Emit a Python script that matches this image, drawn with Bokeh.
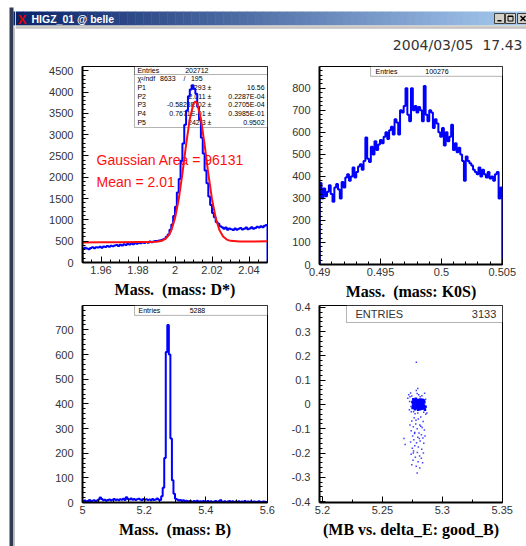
from bokeh.plotting import figure
from bokeh.models import (Range1d, SingleIntervalTicker, CustomJSTickFormatter,
                          BoxAnnotation, Label)
from bokeh.layouts import row, column
from bokeh.embed import file_html
from bokeh.resources import INLINE

# ---------------- data ----------------
# D* mass histogram (bins of 0.001 from 1.95)
dstar_lo, dstar_bin = 1.95, 0.001
dstar_counts = [
    320, 345, 330, 310, 340, 355, 335, 360, 350, 370,
    345, 375, 365, 390, 370, 395, 380, 400, 410, 385,
    415, 400, 430, 410, 440, 425, 445, 430, 455, 440,
    460, 450, 470, 455, 480, 465, 490, 475, 495, 505,
    505, 515, 520, 540, 555, 605, 660, 770, 890, 1090,
    1310, 1640, 1960, 2390, 2790, 3230, 3570, 3900, 4060, 4160,
    4080, 3960, 3650, 3350, 2930, 2560, 2160, 1860, 1550, 1350,
    1160, 1060, 950, 910, 850, 830, 790, 820, 770, 800,
    780, 760, 800, 770, 790, 810, 775, 790, 820, 780,
    800, 830, 790, 810, 840, 820, 850, 830, 860, 880,
]
# Gaussian + linear fit curve
fit_x = [1.95, 1.96, 1.97, 1.98, 1.985, 1.99, 1.993, 1.995, 1.997, 1.998,
         2.0, 2.002, 2.004, 2.006, 2.008, 2.01, 2.011, 2.012, 2.014, 2.016,
         2.018, 2.02, 2.022, 2.024, 2.026, 2.028, 2.03, 2.035, 2.04, 2.05]
fit_y = [472, 475, 477, 480, 481, 487, 511, 559, 667, 756,
         1038, 1482, 2084, 2764, 3370, 3732, 3780, 3732, 3372, 2766,
         2088, 1486, 1043, 762, 610, 538, 508, 494, 494, 497]
fit_params = [("P1", "3293", "16.56"), ("P2", "2.011", "0.2287E-04"),
              ("P3", "-0.5823E-02", "0.2705E-04"), ("P4", "0.7671E-01", "0.3985E-01"),
              ("P5", "242.3", "0.9502")]

# K0S mass histogram (bins of 0.00015 from 0.49)
k0s_lo, k0s_bin = 0.49, 0.00015
k0s_counts = [
    370, 300, 345, 310, 330, 360, 320, 285, 350, 365,
    340, 300, 375, 350, 395, 410, 380, 400, 440, 395,
    420, 445, 455, 430, 470, 577, 480, 465, 535, 500,
    560, 520, 545, 565, 550, 580, 600, 570, 610, 625,
    590, 660, 645, 590, 700, 690, 720, 800, 680, 650,
    800, 700, 720, 690, 715, 700, 650, 810, 680, 650,
    700, 690, 620, 660, 640, 600, 580, 620, 540, 600,
    560, 580, 635, 520, 550, 510, 530, 500, 470, 380,
    490, 470, 460, 450, 430, 420, 410, 440, 400, 430,
    410, 395, 420, 390, 400, 380, 410, 420, 300, 350,
]

# B mass histogram (bins of 0.005 from 5.0)
b_lo, b_bin = 5.0, 0.005
b_counts = [
    5, 8, 3, 6, 10, 4, 7, 9, 5, 8,
    12, 20, 14, 9, 11, 7, 10, 12, 8, 11,
    14, 10, 12, 9, 13, 11, 15, 10, 21, 14,
    12, 16, 11, 14, 10, 13, 15, 12, 9, 14,
    11, 13, 10, 12, 9, 14, 10, 12, 16, 11,
    10, 25, 60, 180, 610, 720, 600, 260, 90, 35,
    15, 12, 8, 10, 6, 9, 5, 7, 4, 6,
    5, 3, 6, 4, 7, 3, 5, 4, 6, 3,
    4, 6, 3, 5, 2, 4, 6, 3, 5, 9,
    4, 3, 5, 2, 4, 6, 3, 5, 2, 4,
    3, 5, 2, 4, 3, 6, 2, 4, 3, 5,
    2, 4, 3, 2, 5, 3, 2, 4, 3, 2,
]

# MB vs delta_E scatter (good_B): dense core, then sparse halo and tail
core_x = [
    5.2750, 5.2755, 5.2760, 5.2762, 5.2765, 5.2768, 5.2770, 5.2772, 5.2775, 5.2777,
    5.2780, 5.2782, 5.2785, 5.2787, 5.2790, 5.2792, 5.2795, 5.2797, 5.2800, 5.2802,
    5.2805, 5.2808, 5.2810, 5.2812, 5.2815, 5.2818, 5.2820, 5.2823, 5.2825, 5.2828,
    5.2830, 5.2833, 5.2836, 5.2838, 5.2840, 5.2843, 5.2846, 5.2849, 5.2752, 5.2758,
    5.2766, 5.2774, 5.2779, 5.2784, 5.2789, 5.2794, 5.2799, 5.2804, 5.2809, 5.2814,
    5.2819, 5.2824, 5.2829, 5.2834, 5.2839, 5.2844, 5.2848, 5.2756, 5.2771, 5.2786,
    5.2801, 5.2816, 5.2831, 5.2846, 5.2852, 5.2855, 5.2858,
]
core_y = [
    0.010, -0.005, 0.015, 0.000, -0.012, 0.008, -0.020, 0.020, 0.004, -0.008,
    0.013, -0.016, 0.002, -0.004, 0.018, -0.011, 0.007, -0.022, 0.000, 0.011,
    -0.006, 0.016, -0.015, 0.005, -0.002, 0.021, -0.010, 0.009, -0.018, 0.003,
    0.014, -0.007, 0.006, -0.013, 0.001, 0.017, -0.004, 0.008, -0.015, 0.022,
    0.004, -0.016, 0.024, -0.012, 0.006, 0.010, -0.014, 0.019, 0.002, -0.020,
    -0.003, 0.012, -0.009, 0.020, -0.017, -0.008, 0.013, 0.005, -0.003, 0.017,
    -0.010, 0.009, -0.001, -0.012, -0.015, -0.022, -0.008,
]
sparse_x = [
    5.2720, 5.2730, 5.2735, 5.2712, 5.2741, 5.2727, 5.2745, 5.2790, 5.2795, 5.2783,
    5.2803, 5.2815, 5.2830, 5.2852, 5.2860, 5.2866, 5.2871, 5.2862, 5.2845, 5.2760,
    5.2772, 5.2738, 5.2725, 5.2795, 5.2783,
    5.2765, 5.2800, 5.2820, 5.2745, 5.2840, 5.2778, 5.2812, 5.2758, 5.2832, 5.2790,
    5.2740, 5.2850, 5.2770, 5.2805, 5.2825, 5.2752, 5.2795, 5.2838, 5.2680, 5.2762,
    5.2815, 5.2735, 5.2785, 5.2845, 5.2690, 5.2770, 5.2800, 5.2750, 5.2828, 5.2760,
    5.2792, 5.2842, 5.2740, 5.2810, 5.2775, 5.2825, 5.2755, 5.2798, 5.2835, 5.2745,
    5.2782, 5.2812, 5.2790, 5.2768, 5.2820, 5.2808, 5.2758, 5.2780, 5.2730, 5.2855,
]
sparse_y = [
    0.040, 0.032, 0.047, 0.026, -0.030, 0.012, 0.035, 0.045, 0.066, 0.058,
    0.040, 0.032, 0.036, 0.046, 0.022, -0.010, -0.035, -0.040, -0.032, -0.030,
    -0.038, -0.008, -0.022, -0.035, 0.174,
    -0.055, -0.060, -0.052, -0.068, -0.070, -0.080, -0.085, -0.092, -0.095, -0.100,
    -0.108, -0.105, -0.115, -0.118, -0.125, -0.130, -0.135, -0.138, -0.140, -0.145,
    -0.150, -0.155, -0.158, -0.160, -0.165, -0.170, -0.175, -0.180, -0.185, -0.192,
    -0.198, -0.200, -0.205, -0.212, -0.218, -0.222, -0.230, -0.236, -0.240, -0.248,
    -0.255, -0.262, -0.282, -0.120, -0.090, -0.140, -0.200, -0.065, -0.085, -0.130,
]

entries_dstar, chi2_text, ndf_text = "202712", "8633", "195"
entries_k0s, entries_b, entries_scatter = "100276", "5288", "3133"
gauss_area_text, mean_text = "Gaussian Area = 96131", "Mean = 2.01"
date_text = "2004/03/05\u00a0\u00a017.43"
window_title = "HIGZ_01 @ belle"
labels = ["Mass.\u00a0 (mass: D*)", "Mass.\u00a0 (mass: K0S)",
          "Mass.\u00a0 (mass: B)", "(MB vs. delta_E: good_B)"]

BLUE = "#0000ff"
RED = "#ff1010"
TICK_FONT = "Liberation Sans"


def step_path(lo, w, counts):
    xs, ys = [lo], [0]
    for i, c in enumerate(counts):
        xs += [lo + i * w, lo + (i + 1) * w]
        ys += [c, c]
    xs.append(lo + len(counts) * w)
    ys.append(0)
    return xs, ys


fmt_code = "return String(Math.round(tick*100000)/100000);"


def panel(xr, yr, fw, fh, bl, br, bt, bb, xt, yt, label):
    p = figure(frame_width=fw, frame_height=fh,
               x_range=Range1d(*xr), y_range=Range1d(*yr),
               min_border_left=bl, min_border_right=br,
               min_border_top=bt, min_border_bottom=bb,
               toolbar_location=None, output_backend="svg",
               background_fill_color="white", border_fill_color="white",
               outline_line_color="black", outline_line_width=1)
    p.grid.visible = False
    p.xaxis.ticker = SingleIntervalTicker(interval=xt[0], num_minor_ticks=xt[1])
    p.yaxis.ticker = SingleIntervalTicker(interval=yt[0], num_minor_ticks=yt[1])
    for ax in (p.xaxis[0], p.yaxis[0]):
        ax.formatter = CustomJSTickFormatter(code=fmt_code)
        ax.axis_line_width = 2
        ax.axis_line_color = "black"
        ax.major_tick_in = 6
        ax.major_tick_out = 0
        ax.minor_tick_in = 3
        ax.minor_tick_out = 0
        ax.major_tick_line_color = "black"
        ax.minor_tick_line_color = "black"
        ax.major_label_text_font = TICK_FONT
        ax.major_label_text_font_size = "11px"
        ax.major_label_text_color = "#333333"
    p.xaxis.major_label_standoff = 3
    p.yaxis.major_label_standoff = 9
    p.xaxis.axis_label = label
    p.xaxis.axis_label_text_font = "Liberation Serif"
    p.xaxis.axis_label_text_font_style = "bold"
    p.xaxis.axis_label_text_font_size = "16px"
    p.xaxis.axis_label_text_color = "black"
    p.xaxis.axis_label_standoff = 4
    return p


def lab(p, x, y, text, size="7px", align="left", color="black", font=TICK_FONT,
        level="underlay", style="normal"):
    p.add_layout(Label(x=x, y=y, text=text, text_font=font, text_font_size=size,
                       text_align=align, text_baseline="middle", text_color=color,
                       text_font_style=style, level=level))


def box(p, l, r, t, b, fill=True):
    p.add_layout(BoxAnnotation(left=l, right=r, top=t, bottom=b,
                               fill_color="white", fill_alpha=1 if fill else 0,
                               line_color="black", line_width=1, level="underlay"))


# ---------------- panel 1: D* ----------------
p1 = panel((1.95, 2.05), (0, 4600), 185, 196, 67, 9, 8, 38,
           (0.02, 4), (500, 5), labels[0])
box(p1, 1.9781, 2.05, 4600, 3168)
box(p1, 1.9781, 2.05, 4600, 4412, fill=False)
rows_y = [4506, 4307, 4103, 3901, 3699, 3497, 3295]
lab(p1, 1.9797, rows_y[0], "Entries")
lab(p1, 2.0181, rows_y[0], entries_dstar, align="right")
lab(p1, 1.9797, rows_y[1], "χ²/ndf")
lab(p1, 2.0003, rows_y[1], chi2_text, align="right")
lab(p1, 2.0051, rows_y[1], "/", align="center")
lab(p1, 2.0149, rows_y[1], ndf_text, align="right")
for (name, val, err), yy in zip(fit_params, rows_y[2:]):
    lab(p1, 1.9797, yy, name)
    lab(p1, 2.0165, yy, val, align="right")
    lab(p1, 2.0186, yy, "±", align="center")
    lab(p1, 2.0484, yy, err, align="right")
lab(p1, 1.95757, 2394, gauss_area_text, size="14px", color=RED)
lab(p1, 1.95757, 1901, mean_text, size="14px", color=RED)
hx, hy = step_path(dstar_lo, dstar_bin, dstar_counts)
p1.line(hx, hy, line_color=BLUE, line_width=2)
p1.line(fit_x, fit_y, line_color=RED, line_width=2)

# ---------------- panel 2: K0S ----------------
p2 = panel((0.48998, 0.50502), (0, 899), 183, 198, 43, 24, 6, 38,
           (0.005, 5), (100, 5), labels[1])
box(p2, 0.49418, 0.50502, 899, 854.5)
lab(p2, 0.49459, 877, "Entries")
lab(p2, 0.49963, 877, entries_k0s, align="center")
hx, hy = step_path(k0s_lo, k0s_bin, k0s_counts)
p2.line(hx, hy, line_color=BLUE, line_width=2)

# ---------------- panel 3: B ----------------
p3 = panel((4.9995, 5.6005), (0, 799), 185, 197, 67, 9, 5, 44,
           (0.2, 4), (100, 5), labels[2])
box(p3, 5.1686, 5.6005, 799, 759)
lab(p3, 5.1816, 780, "Entries")
lab(p3, 5.373, 780, entries_b, align="center")
hx, hy = step_path(b_lo, b_bin, b_counts)
p3.line(hx, hy, line_color=BLUE, line_width=2)

# ---------------- panel 4: scatter ----------------
p4 = panel((5.1975, 5.3502), (-0.404, 0.408), 183, 197, 43, 24, 5, 44,
           (0.05, 2), (0.1, 5), labels[3])
box(p4, 5.22, 5.3502, 0.408, 0.338)
lab(p4, 5.2275, 0.371, "ENTRIES", size="11px", color="#333333")
lab(p4, 5.345, 0.371, entries_scatter, size="11px", align="right", color="#333333")
p4.scatter(core_x, core_y, marker="square", size=2.5, fill_color=BLUE, line_color=None)
p4.scatter(sparse_x, sparse_y, marker="square", size=1.5, fill_color=BLUE,
           line_color=None, fill_alpha=0.75)

# ---------------- window chrome ----------------
header = figure(width=511, height=58, x_range=Range1d(15, 526), y_range=Range1d(58, 0),
                min_border=0, toolbar_location=None, output_backend="svg",
                x_axis_location=None, y_axis_location=None,
                outline_line_color=None, background_fill_color="white",
                border_fill_color="white")
header.grid.visible = False
n = 64
c0, c1 = (10, 36, 106), (166, 202, 240)
gl, gr, gc = [], [], []
for i in range(n):
    t = i / (n - 1)
    gl.append(15 + (526 - 15) * i / n)
    gr.append(15 + (526 - 15) * (i + 1) / n + 0.5)
    gc.append("#%02x%02x%02x" % tuple(int(round(a + (b - a) * t)) for a, b in zip(c0, c1)))
header.quad(left=gl, right=gr, top=[11] * n, bottom=[25] * n, fill_color=gc, line_color=None)
header.quad(left=[15], right=[526], top=[25], bottom=[27], fill_color="#d4d0c8", line_color=None)
header.quad(left=[15], right=[526], top=[27], bottom=[28], fill_color="#a0a0a0", line_color=None)
# buttons
header.quad(left=[494, 505, 517], right=[504, 515, 527], top=[13, 13, 13],
            bottom=[23, 23, 23], fill_color="#d4d0c8", line_color="#404040", line_width=1)
header.quad(left=[497], right=[501], top=[19.5], bottom=[21], fill_color="black", line_color=None)
header.quad(left=[507.5], right=[512.5], top=[15.5], bottom=[20.5], fill_alpha=0,
            line_color="black", line_width=1)
header.quad(left=[507.5], right=[512.5], top=[15.5], bottom=[16.5], fill_color="black",
            line_color=None)
header.segment(x0=[520, 520], y0=[15.5, 20.5], x1=[525, 525], y1=[20.5, 15.5],
               line_color="black", line_width=1.5)
lab(header, 21.5, 18.5, "X", size="13px", align="center", color="#e00000",
    level="annotation", style="bold")
lab(header, 31, 18, window_title, size="10.5px", color="white", level="annotation",
    style="bold")
lab(header, 522, 44, date_text, size="14px", align="right", color="#333333",
    font="DejaVu Sans", level="annotation")

leftbar = figure(width=15, height=546, x_range=Range1d(0, 15), y_range=Range1d(546, 0),
                 min_border=0, toolbar_location=None, output_backend="svg",
                 x_axis_location=None, y_axis_location=None,
                 outline_line_color=None, background_fill_color="white",
                 border_fill_color="white")
leftbar.grid.visible = False
leftbar.quad(left=[9], right=[13], top=[7], bottom=[546], fill_color="#303c55", line_color=None)
leftbar.quad(left=[13], right=[15], top=[11], bottom=[25], fill_color="#0a246a", line_color=None)
leftbar.quad(left=[13], right=[14], top=[25], bottom=[546], fill_color="#d4d0c8", line_color=None)
leftbar.quad(left=[14], right=[15], top=[27], bottom=[546], fill_color="#a0a0a0", line_color=None)

layout = row(leftbar, column(header, row(p1, p2), row(p3, p4)))

open("out.html", "w").write(file_html(layout, INLINE))
